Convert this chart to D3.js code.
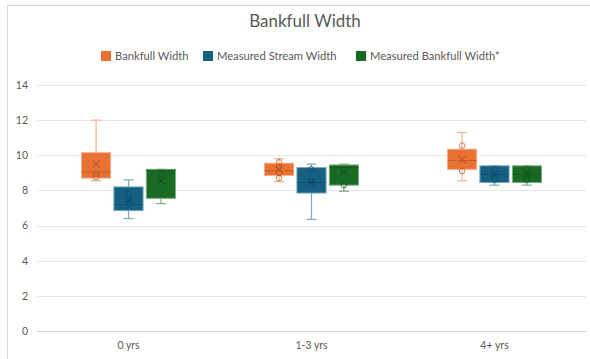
<!DOCTYPE html>
<html>
<head>
<meta charset="utf-8">
<script src="https://cdn.jsdelivr.net/npm/d3@7"></script>
<style>
  html, body { margin: 0; padding: 0; background: #fff; }
  svg { display: block; }
  text { font-family: "Lato", "Noto Sans", sans-serif; fill: #595959; }
</style>
</head>
<body>
<svg id="chart" width="590" height="359"></svg>
<script>
// Categories (age since restoration) and series names
const categories = ["0 yrs", "1-3 yrs", "4+ yrs"];
const seriesNames = ["Bankfull Width", "Measured Stream Width", "Measured Bankfull Width*"];
const seriesColors = ["#E97132", "#156082", "#196B24"];
const yTicks = [0, 2, 4, 6, 8, 10, 12, 14];

// Box statistics per category: [min, q1, median, q3, max]
const bankfullBoxes = [
  [8.55, 8.70, 9.05, 10.15, 12.0],
  [8.50, 8.85, 9.12, 9.55, 9.80],
  [8.55, 9.20, 9.70, 10.35, 11.30]
];
const streamBoxes = [
  [6.40, 6.85, 7.20, 8.20, 8.60],
  [6.35, 7.85, 8.45, 9.30, 9.50],
  [8.30, 8.45, 8.92, 9.40, 9.40]
];
const measuredBankfullBoxes = [
  [7.25, 7.55, 9.15, 9.20, 9.20],
  [7.95, 8.30, 9.30, 9.45, 9.50],
  [8.30, 8.45, 8.92, 9.40, 9.40]
];

// Mean per category
const bankfullMeans = [9.50, 9.20, 9.75];
const streamMeans = [7.45, 8.45, 8.93];
const measuredBankfullMeans = [8.55, 9.00, 8.93];

// Inner points per category
const bankfullPoints = [[8.75, 8.95], [8.70, 9.00, 9.35, 9.60], [9.10, 10.55]];
const streamPoints = [[7.25, 7.80], [8.55, 9.20], [8.60, 9.20]];
const measuredBankfullPoints = [[8.95], [9.20, 8.30], [8.60, 9.20]];

const boxes = [bankfullBoxes, streamBoxes, measuredBankfullBoxes];
const means = [bankfullMeans, streamMeans, measuredBankfullMeans];
const points = [bankfullPoints, streamPoints, measuredBankfullPoints];

const svg = d3.select("#chart");
const W = 590, H = 359;
const margin = { left: 37, right: 4, top: 85, bottom: 28 };
const plotRight = W - margin.right;
const plotBottom = H - margin.bottom;

// Chart frame
svg.append("rect")
  .attr("x", 7.5).attr("y", 5.5)
  .attr("width", 600).attr("height", 360)
  .attr("fill", "#fff").attr("stroke", "#d9d9d9");

const x = d3.scaleBand().domain(categories).range([margin.left, plotRight]);
const xInner = d3.scaleBand().domain(seriesNames)
  .range([x.bandwidth() / 2 - 47, x.bandwidth() / 2 + 47]).paddingInner(0.1);
const y = d3.scaleLinear().domain([0, 14]).range([plotBottom, margin.top]);

// Gridlines
svg.append("g")
  .selectAll("line").data(yTicks).join("line")
  .attr("x1", margin.left).attr("x2", plotRight)
  .attr("y1", d => Math.round(y(d)) + 0.5).attr("y2", d => Math.round(y(d)) + 0.5)
  .attr("stroke", d => d === 0 ? "#d0d0d0" : "#e6e6e6").attr("stroke-width", 1);

// Y axis labels
const yAxis = d3.axisLeft(y).tickValues(yTicks).tickSize(0).tickPadding(9);
svg.append("g")
  .attr("transform", `translate(${margin.left},0)`)
  .call(yAxis)
  .call(g => g.select(".domain").remove())
  .call(g => g.selectAll("text").style("font-size", "10.5px").attr("fill", "#6a6a6a")
    .style("font-family", "Lato, 'Noto Sans', sans-serif"));

// X axis labels
const xAxis = d3.axisBottom(x).tickSize(0).tickPadding(11);
svg.append("g")
  .attr("transform", `translate(0,${plotBottom})`)
  .call(xAxis)
  .call(g => g.select(".domain").remove())
  .call(g => g.selectAll("text").style("font-size", "10.5px").attr("fill", "#595959")
    .style("font-family", "Lato, 'Noto Sans', sans-serif"));

// Boxes
const bw = xInner.bandwidth();
seriesNames.forEach((name, si) => {
  const color = seriesColors[si];
  const dark = d3.color(color).darker(0.8).formatHex();
  const light = d3.interpolateRgb(color, "#fff")(0.45);
  const g = svg.append("g");
  categories.forEach((cat, ci) => {
    const [mn, q1, med, q3, mx] = boxes[si][ci];
    const x0 = x(cat) + xInner(name);
    const cx = x0 + bw / 2;
    const wg = g.append("g");
    // whiskers
    wg.append("line").attr("x1", cx).attr("x2", cx).attr("y1", y(mx)).attr("y2", y(q3))
      .attr("stroke", light).attr("stroke-width", 1.2);
    wg.append("line").attr("x1", cx).attr("x2", cx).attr("y1", y(q1)).attr("y2", y(mn))
      .attr("stroke", light).attr("stroke-width", 1.2);
    [mn, mx].forEach(v => {
      wg.append("line").attr("x1", cx - 5).attr("x2", cx + 5).attr("y1", y(v)).attr("y2", y(v))
        .attr("stroke", light).attr("stroke-width", 1.2);
    });
    // box
    wg.append("rect")
      .attr("x", x0).attr("y", y(q3))
      .attr("width", bw).attr("height", y(q1) - y(q3))
      .attr("fill", color).attr("stroke", light).attr("stroke-width", 1);
    // median
    wg.append("line").attr("x1", x0).attr("x2", x0 + bw).attr("y1", y(med)).attr("y2", y(med))
      .attr("stroke", dark).attr("stroke-width", 0.8).attr("opacity", 0.8);
    // inner points
    wg.selectAll("circle").data(points[si][ci]).join("circle")
      .attr("cx", cx).attr("cy", d => y(d)).attr("r", 2.8)
      .attr("fill", "none").attr("stroke", dark).attr("stroke-width", 1).attr("opacity", 0.7);
    // mean marker
    const my = y(means[si][ci]);
    const s = 3.5;
    wg.append("path")
      .attr("d", `M${cx - s},${my - s}L${cx + s},${my + s}M${cx - s},${my + s}L${cx + s},${my - s}`)
      .attr("stroke", dark).attr("stroke-width", 1.2).attr("opacity", 0.75);
  });
});

// Title
svg.append("text")
  .attr("x", 305).attr("y", 27)
  .attr("text-anchor", "middle")
  .style("font-size", "17px")
  .text("Bankfull Width");

// Legend
const legendX = [101, 203, 356];
const legend = svg.append("g");
seriesNames.forEach((name, i) => {
  legend.append("rect")
    .attr("x", legendX[i]).attr("y", 51)
    .attr("width", 10).attr("height", 10)
    .attr("fill", seriesColors[i]);
  legend.append("text")
    .attr("x", legendX[i] + 14).attr("y", 60)
    .style("font-size", "11.2px")
    .text(name);
});
</script>
</body>
</html>
